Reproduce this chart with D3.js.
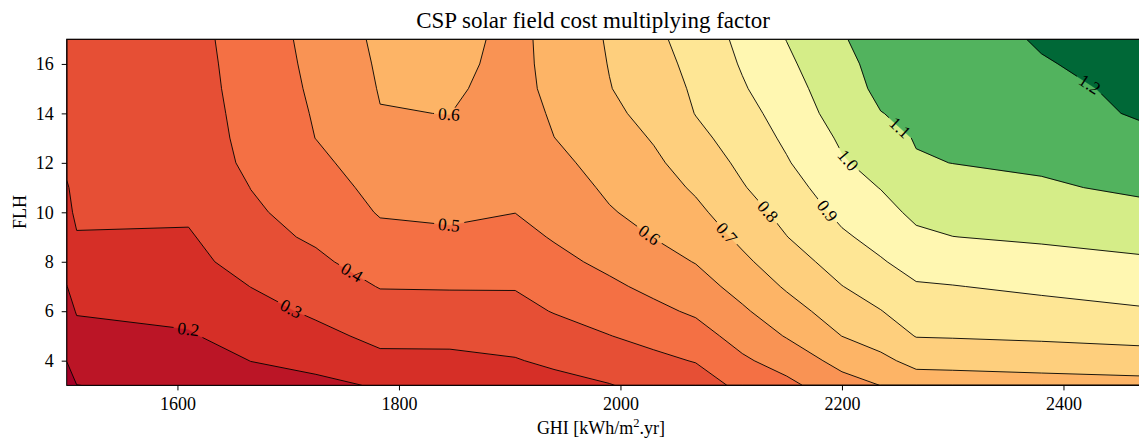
<!DOCTYPE html>
<html>
<head>
<meta charset="utf-8">
<script src="https://cdn.jsdelivr.net/npm/d3@7"></script>
<style>
  body { margin: 0; background: #fff; }
  text { font-family: "Liberation Serif", "DejaVu Serif", serif; fill: #000; }
</style>
</head>
<body>
<svg id="chart" width="1139" height="441"></svg>
<script>
// grid nodes (kinks of the contour lines)
const ghiNodes = [1500, 1509, 1610, 1666, 1725, 1783, 1846, 1905, 1940, 1990, 2030, 2068, 2110, 2150, 2200, 2235, 2267, 2300, 2380, 2470];
const flhNodes = [3, 4, 5, 6, 7, 8, 9, 10, 11, 12, 13, 14, 15, 16, 17];

// cost multiplying factor, one row per FLH node, one column per GHI node
const costFactor = [
  [0.069, 0.099, 0.121, 0.167, 0.179, 0.208, 0.236, 0.262, 0.271, 0.296, 0.328, 0.349, 0.425, 0.475, 0.562, 0.601, 0.648, 0.651, 0.658, 0.666],
  [0.101, 0.136, 0.157, 0.201, 0.226, 0.278, 0.280, 0.295, 0.316, 0.347, 0.378, 0.405, 0.485, 0.541, 0.631, 0.678, 0.728, 0.731, 0.742, 0.755],
  [0.133, 0.172, 0.193, 0.233, 0.274, 0.323, 0.323, 0.332, 0.354, 0.398, 0.428, 0.461, 0.537, 0.606, 0.701, 0.741, 0.804, 0.807, 0.816, 0.830],
  [0.166, 0.206, 0.219, 0.267, 0.315, 0.364, 0.365, 0.369, 0.405, 0.441, 0.478, 0.514, 0.586, 0.660, 0.749, 0.797, 0.848, 0.852, 0.868, 0.890],
  [0.198, 0.235, 0.243, 0.301, 0.349, 0.404, 0.406, 0.406, 0.440, 0.483, 0.522, 0.560, 0.634, 0.711, 0.798, 0.845, 0.891, 0.897, 0.918, 0.940],
  [0.222, 0.264, 0.267, 0.345, 0.384, 0.440, 0.444, 0.439, 0.475, 0.522, 0.563, 0.604, 0.681, 0.754, 0.842, 0.892, 0.936, 0.948, 0.967, 0.987],
  [0.246, 0.292, 0.290, 0.372, 0.412, 0.476, 0.486, 0.472, 0.507, 0.557, 0.602, 0.642, 0.721, 0.798, 0.886, 0.931, 0.981, 0.999, 1.013, 1.032],
  [0.269, 0.322, 0.315, 0.387, 0.434, 0.507, 0.515, 0.501, 0.530, 0.593, 0.629, 0.679, 0.757, 0.830, 0.923, 0.967, 1.021, 1.033, 1.051, 1.077],
  [0.293, 0.324, 0.322, 0.401, 0.456, 0.528, 0.533, 0.511, 0.553, 0.615, 0.656, 0.713, 0.793, 0.861, 0.957, 1.003, 1.056, 1.067, 1.089, 1.115],
  [0.316, 0.326, 0.329, 0.422, 0.479, 0.549, 0.555, 0.520, 0.577, 0.635, 0.683, 0.744, 0.819, 0.892, 0.991, 1.033, 1.092, 1.101, 1.113, 1.145],
  [0.318, 0.328, 0.336, 0.432, 0.501, 0.571, 0.577, 0.529, 0.599, 0.654, 0.707, 0.775, 0.843, 0.916, 1.014, 1.062, 1.106, 1.115, 1.132, 1.178],
  [0.321, 0.330, 0.343, 0.438, 0.507, 0.597, 0.601, 0.545, 0.615, 0.683, 0.725, 0.803, 0.867, 0.938, 1.043, 1.098, 1.118, 1.128, 1.160, 1.210],
  [0.324, 0.332, 0.351, 0.443, 0.514, 0.605, 0.613, 0.567, 0.625, 0.697, 0.742, 0.816, 0.891, 0.959, 1.062, 1.119, 1.130, 1.140, 1.178, 1.218],
  [0.327, 0.334, 0.358, 0.445, 0.521, 0.612, 0.626, 0.569, 0.632, 0.703, 0.760, 0.830, 0.908, 0.981, 1.080, 1.124, 1.137, 1.152, 1.195, 1.225],
  [0.330, 0.336, 0.365, 0.447, 0.528, 0.620, 0.640, 0.568, 0.638, 0.708, 0.777, 0.844, 0.922, 1.002, 1.095, 1.128, 1.145, 1.165, 1.207, 1.230]
];

const levels = [0.0, 0.1, 0.2, 0.3, 0.4, 0.5, 0.6, 0.7, 0.8, 0.9, 1.0, 1.1, 1.2, 1.3];
const xTicks = [1600, 1800, 2000, 2200, 2400];
const yTicks = [4, 6, 8, 10, 12, 14, 16];

// where the inline contour labels sit (approximate, snapped onto the line)
const labelSpots = [
  {level: 0.2, ghi: 1610, flh: 5.31},
  {level: 0.3, ghi: 1702, flh: 6.05},
  {level: 0.4, ghi: 1757, flh: 7.54},
  {level: 0.5, ghi: 1845, flh: 9.40},
  {level: 0.6, ghi: 1845, flh: 13.85},
  {level: 0.6, ghi: 2025, flh: 9.02},
  {level: 0.7, ghi: 2094, flh: 9.08},
  {level: 0.8, ghi: 2133, flh: 10.03},
  {level: 0.9, ghi: 2186, flh: 10.03},
  {level: 1.0, ghi: 2204, flh: 12.05},
  {level: 1.1, ghi: 2245, flh: 13.06},
  {level: 1.2, ghi: 2422, flh: 15.06}
];

const rdylgn = ["#a50026", "#d73027", "#f46d43", "#fdae61", "#fee08b", "#ffffbf",
                "#d9ef8b", "#a6d96a", "#66bd63", "#1a9850", "#006837"];

const W = 1139, H = 441;
const svg = d3.select("#chart");

const x = d3.scaleLinear().domain([1500, 2470]).range([66.7, 1141]);
const y = d3.scaleLinear().domain([3, 17]).range([385.4, 39.2]);

const n = ghiNodes.length, m = flhNodes.length;
const values = costFactor.flat();

// grid index -> data value (irregular grid)
const colToGhi = d3.scaleLinear().domain(d3.range(n)).range(ghiNodes).clamp(true);
const rowToFlh = d3.scaleLinear().domain(d3.range(m)).range(flhNodes).clamp(true);
const toPx = (cx, cy) => [x(colToGhi(cx - 0.5)), y(rowToFlh(cy - 0.5))];

const path = d3.geoPath(d3.geoTransform({
  point(px, py) { const p = toPx(px, py); this.stream.point(p[0], p[1]); }
}));

// two slope norm centred on 1.0, as the colours show
const vmin = d3.min(values), vmax = d3.max(values);
const norm = d3.scaleLinear().domain([vmin, 1, vmax]).range([0, 0.5, 1]).clamp(true);
const cmap = d3.scaleLinear().domain(d3.range(11).map(i => i / 10)).range(rdylgn);

const bands = d3.contours().size([n, m]).thresholds(levels.slice(0, -1))(values);

svg.append("defs").append("clipPath").attr("id", "plotArea")
  .append("rect").attr("x", 66.7).attr("y", 39.2).attr("width", 1141 - 66.7).attr("height", 385.4 - 39.2);

const plot = svg.append("g").attr("clip-path", "url(#plotArea)");

plot.append("g").selectAll("path")
  .data(bands)
  .join("path")
    .attr("d", path)
    .attr("fill", (d, i) => cmap(norm((levels[i] + levels[i + 1]) / 2)))
    .attr("stroke", (d, i) => cmap(norm((levels[i] + levels[i + 1]) / 2)))
    .attr("stroke-width", 0.5)
    .attr("fill-rule", "evenodd");

// contour lines (skip the 0.0 band, which is the whole frame)
const lineData = bands.slice(1);
const mask = svg.select("defs").append("mask").attr("id", "labelGaps")
  .attr("maskUnits", "userSpaceOnUse").attr("x", 0).attr("y", 0).attr("width", W).attr("height", H);
mask.append("rect").attr("width", W).attr("height", H).attr("fill", "#fff");

plot.append("g")
  .attr("mask", "url(#labelGaps)")
  .selectAll("path")
  .data(lineData)
  .join("path")
    .attr("d", path)
    .attr("fill", "none")
    .attr("stroke", "#000")
    .attr("stroke-width", 0.9)
    .attr("stroke-linejoin", "round");

// pixel rings per level, for snapping labels onto their lines
function ringsOf(level) {
  const c = bands.find(b => Math.abs(b.value - level) < 1e-9);
  const out = [];
  c.coordinates.forEach(poly => poly.forEach(ring => out.push(ring.map(p => toPx(p[0], p[1])))));
  return out;
}
function nearest(rings, px, py) {
  let best = null;
  rings.forEach(ring => {
    for (let i = 1; i < ring.length; i++) {
      const [x1, y1] = ring[i - 1], [x2, y2] = ring[i];
      const dx = x2 - x1, dy = y2 - y1, len2 = dx * dx + dy * dy;
      if (len2 < 1e-9) continue;
      let t = ((px - x1) * dx + (py - y1) * dy) / len2;
      t = Math.max(0, Math.min(1, t));
      const qx = x1 + t * dx, qy = y1 + t * dy;
      const d = (qx - px) ** 2 + (qy - py) ** 2;
      if (!best || d < best.d) best = {d, x: qx, y: qy, a: Math.atan2(dy, dx) * 180 / Math.PI};
    }
  });
  if (best.a > 90) best.a -= 180;
  if (best.a < -90) best.a += 180;
  return best;
}

const labelG = svg.append("g");
labelSpots.forEach(s => {
  const p = nearest(ringsOf(s.level), x(s.ghi), y(s.flh));
  const t = labelG.append("text")
    .attr("transform", `translate(${p.x},${p.y}) rotate(${p.a})`)
    .attr("text-anchor", "middle")
    .attr("dy", "0.33em")
    .attr("font-size", 17.5)
    .text(d3.format(".1f")(s.level));
  const w = t.node().getComputedTextLength() + 8;
  mask.append("rect")
    .attr("x", -w / 2).attr("y", -7).attr("width", w).attr("height", 14)
    .attr("transform", `translate(${p.x},${p.y}) rotate(${p.a})`)
    .attr("fill", "#000");
});

// frame
svg.append("rect")
  .attr("x", 66.7).attr("y", 39.2).attr("width", 1141 - 66.7).attr("height", 385.4 - 39.2)
  .attr("fill", "none").attr("stroke", "#000").attr("stroke-width", 1);

// axes
const xAxis = svg.append("g").attr("transform", "translate(0,385.4)")
  .call(d3.axisBottom(x).tickValues(xTicks).tickSize(5).tickSizeOuter(0).tickPadding(7).tickFormat(d3.format("d")));
const yAxis = svg.append("g").attr("transform", "translate(66.7,0)")
  .call(d3.axisLeft(y).tickValues(yTicks).tickSize(5).tickSizeOuter(0).tickPadding(8));
[xAxis, yAxis].forEach(a => {
  a.select(".domain").remove();
  a.selectAll(".tick line").attr("stroke", "#000").attr("stroke-width", 1);
  a.selectAll(".tick text").attr("font-size", 18).attr("fill", "#000");
  a.attr("font-family", null).attr("font-size", null);
});

// titles
svg.append("text")
  .attr("x", 593).attr("y", 28.3)
  .attr("text-anchor", "middle")
  .attr("font-size", 23)
  .text("CSP solar field cost multiplying factor");

const xl = svg.append("text")
  .attr("x", 601).attr("y", 434)
  .attr("text-anchor", "middle")
  .attr("font-size", 18);
xl.append("tspan").text("GHI [kWh/m");
xl.append("tspan").attr("dy", -7).attr("font-size", 12.5).text("2");
xl.append("tspan").attr("dy", 7).text(".yr]");

svg.append("text")
  .attr("transform", "translate(26,212) rotate(-90)")
  .attr("text-anchor", "middle")
  .attr("font-size", 18)
  .text("FLH");
</script>
</body>
</html>
